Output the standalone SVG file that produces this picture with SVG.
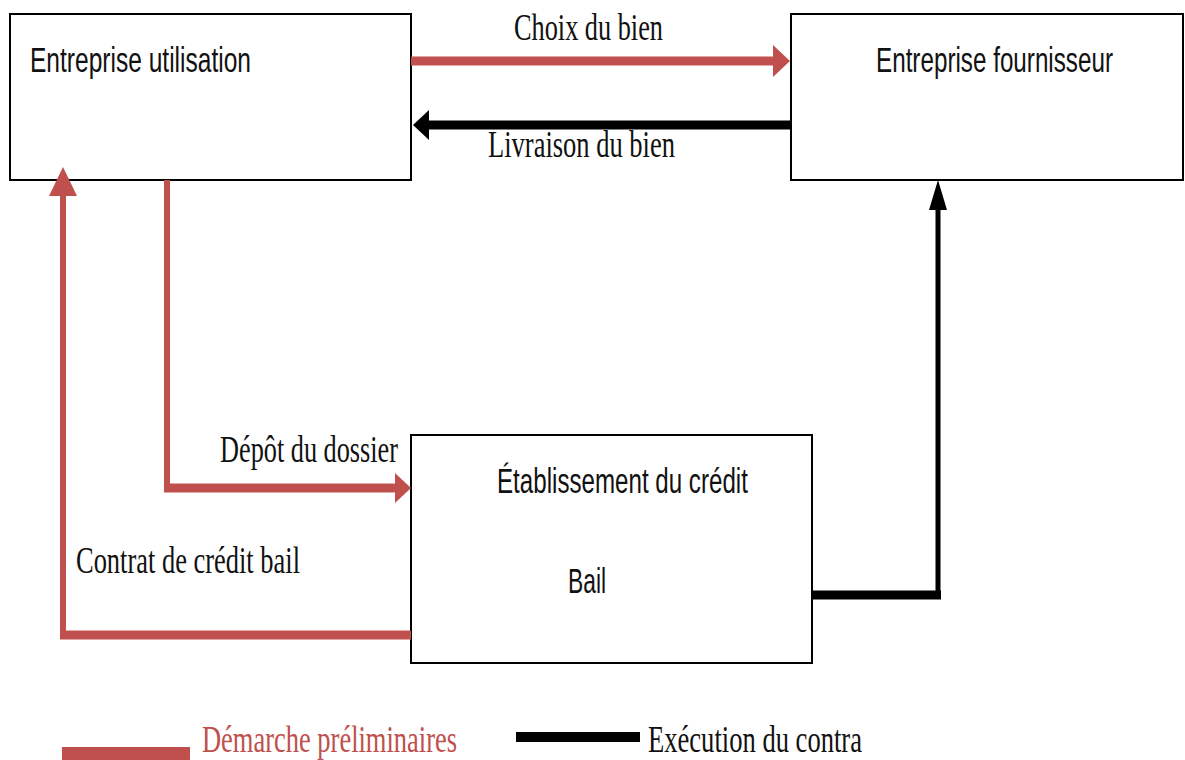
<svg xmlns="http://www.w3.org/2000/svg" width="1185" height="760" viewBox="0 0 1185 760">
<style>
.box{fill:#fff;stroke:#000;stroke-width:2}
.sans{font-family:"Liberation Sans",Arial,sans-serif;font-size:36px;fill:#111}
.serif{font-family:"Liberation Serif","Times New Roman",serif;font-size:37px;fill:#111}
.rh{fill:none;stroke:#C0504D;stroke-width:9}
.rv{fill:none;stroke:#C0504D;stroke-width:6}
.bh{fill:none;stroke:#000;stroke-width:9}
.bv{fill:none;stroke:#000;stroke-width:5}
.rhead{fill:#C0504D}
.bhead{fill:#000}
</style>
<g id="node-utilisation">
<rect class="box" x="10" y="14" width="401" height="166"/>
<text class="sans" transform="matrix(0.65,0,0,1,30,72)" x="0" y="0" textLength="340" lengthAdjust="spacingAndGlyphs">Entreprise utilisation</text>
</g>
<g id="node-fournisseur">
<rect class="box" x="791" y="14" width="392" height="166"/>
<text class="sans" transform="matrix(0.65,0,0,1,876,72)" x="0" y="0" textLength="364.6" lengthAdjust="spacingAndGlyphs">Entreprise fournisseur</text>
</g>
<g id="node-credit">
<rect class="box" x="411" y="435" width="401" height="228"/>
<text class="sans" transform="matrix(0.65,0,0,1,497,493)" x="0" y="0" textLength="386" lengthAdjust="spacingAndGlyphs">Établissement du crédit</text>
<text class="sans" transform="matrix(0.65,0,0,1,568,593)" x="0" y="0" textLength="58.5" lengthAdjust="spacingAndGlyphs">Bail</text>
</g>
<g id="connectors">
<path class="rh" d="M411,61 H774"/>
<path class="rhead" d="M773,45 L790,61 L773,77 Z"/>
<path class="bh" d="M791,125 H428"/>
<path class="bhead" d="M429,110 L413,125 L429,140 Z"/>
<path class="rv" d="M167,180 V492"/>
<path class="rh" d="M164,488 H396"/>
<path class="rhead" d="M395,473 L411,488 L395,503 Z"/>
<path class="rh" d="M411,635 H60"/>
<path class="rv" d="M63,639 V190"/>
<path class="rhead" d="M49,196 L63,167 L77,196 Z"/>
<path class="bh" d="M812,595 H941"/>
<path class="bv" d="M938,599 V196"/>
<path class="bhead" d="M929,210 L938,180 L947,210 Z"/>
<text class="serif" x="514" y="40" textLength="149" lengthAdjust="spacingAndGlyphs">Choix du bien</text>
<text class="serif" x="488" y="157" textLength="187" lengthAdjust="spacingAndGlyphs">Livraison du bien</text>
<text class="serif" x="220" y="462" textLength="178" lengthAdjust="spacingAndGlyphs">Dépôt du dossier</text>
<text class="serif" x="76" y="573" textLength="224" lengthAdjust="spacingAndGlyphs">Contrat de crédit bail</text>
</g>
<g id="legend">
<rect x="62" y="747" width="128" height="13" fill="#C0504D"/>
<text class="serif" x="202" y="752" textLength="255" lengthAdjust="spacingAndGlyphs" style="fill:#C0504D">Démarche préliminaires</text>
<rect x="516" y="732" width="124" height="10" fill="#000"/>
<text class="serif" x="648" y="752" textLength="214" lengthAdjust="spacingAndGlyphs">Exécution du contra</text>
</g>
</svg>
